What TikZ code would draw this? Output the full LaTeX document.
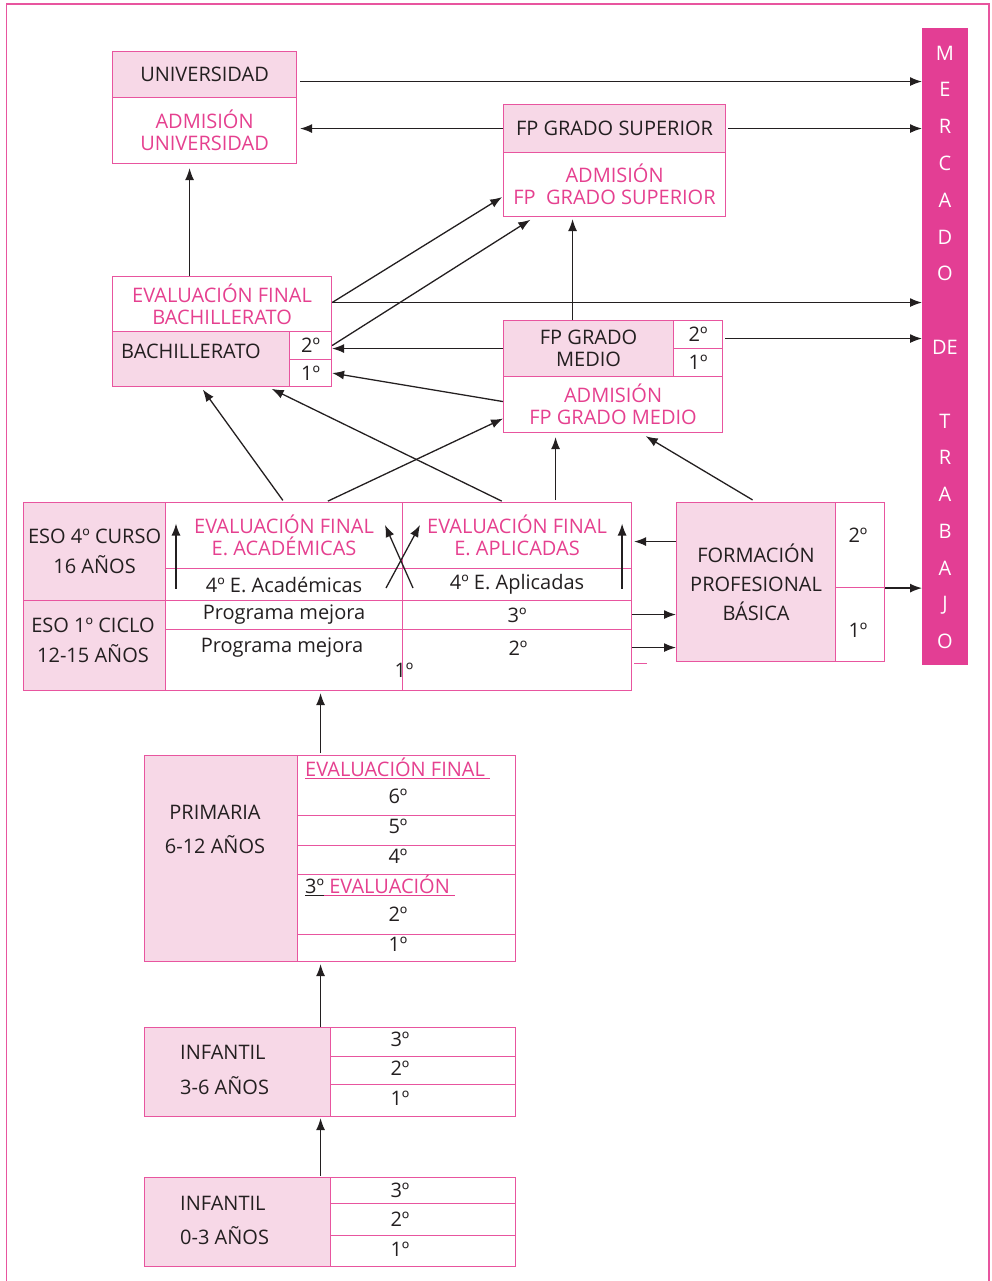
\documentclass[tikz,border=0pt]{standalone}
\usepackage{fontspec}
\setmainfont{Open Sans}
\usetikzlibrary{arrows.meta}
\definecolor{rosa}{HTML}{E8559F}
\definecolor{rosaclaro}{HTML}{F7D8E7}
\definecolor{rosatexto}{HTML}{E5408F}
\definecolor{barra}{HTML}{E33E94}
\definecolor{tinta}{HTML}{231F20}

\begin{document}
\begin{tikzpicture}[x=1pt, y=-1pt,
    celda/.style={draw=rosa, line width=1.1pt, anchor=north west, inner sep=0pt, align=center, font=\fontsize{20}{22}\selectfont, text=tinta},
    celdarosa/.style={celda, fill=rosaclaro},
    rosado/.style={text=rosatexto},
    texto/.style={inner sep=0pt, align=center, font=\fontsize{20}{22}\selectfont, text=tinta},
    letra/.style={inner sep=0pt, font=\fontsize{20}{20}\selectfont, text=white},
    flecha/.style={-{Latex[length=12pt,width=9pt]}, line width=1.3pt, tinta}]
    \useasboundingbox (0,0) rectangle (992,1281);

    \draw[rosa, line width=1.5pt] (6.5,1281) -- (6.5,4) -- (989,4) -- (989,1281);

    \node[fill=barra, anchor=north west, minimum width=46, minimum height=637, inner sep=0pt] (mercado) at (922,28) {};
    \foreach \l [count=\i from 0] in {M,E,R,C,A,D,O,{},DE,{},T,R,A,B,A,J,O}
        \node[letra] (m\i) at (945,{53+36.8*\i}) {\l};

    % universidad y fp superior
    \node[celdarosa, minimum width=184, minimum height=46] (univ) at (112,51) {UNIVERSIDAD};
    \node[celda, rosado, minimum width=184, minimum height=66] (admuniv) at (112,97) {ADMISIÓN\\UNIVERSIDAD};
    \node[celdarosa, minimum width=222, minimum height=48] (fpgs) at (503,104) {FP GRADO SUPERIOR};
    \node[celda, rosado, minimum width=222, minimum height=64] (admfpgs) at (503,152) {ADMISIÓN\\FP\ \ GRADO SUPERIOR};

    % bachillerato y fp medio
    \node[celda, rosado, minimum width=219, minimum height=55] (evalbach) at (112,276) {EVALUACIÓN FINAL\\BACHILLERATO};
    \node[celdarosa, minimum width=177, minimum height=55] (bach) at (112,331) {};
    \node[texto, anchor=west] (bachtxt) at (121,351) {BACHILLERATO};
    \node[celda, minimum width=42, minimum height=28] (bach2) at (289,331) {2º};
    \node[celda, minimum width=42, minimum height=27] (bach1) at (289,359) {1º};
    \node[celdarosa, minimum width=170, minimum height=56] (fpgm) at (503,320) {FP GRADO\\MEDIO};
    \node[celda, minimum width=49, minimum height=28] (fpgm2) at (673,320) {2º};
    \node[celda, minimum width=49, minimum height=28] (fpgm1) at (673,348) {1º};
    \node[celda, rosado, minimum width=219, minimum height=56] (admfpgm) at (503,376) {ADMISIÓN\\FP GRADO MEDIO};

    % eso
    \node[celdarosa, minimum width=142, minimum height=98] (eso4) at (23,502) {ESO 4º CURSO\\[8pt]16 AÑOS};
    \node[celdarosa, minimum width=142, minimum height=90] (eso1) at (23,600) {};
    \node[texto] (eso1txt) at (93,640) {ESO 1º CICLO\\[8pt]12-15 AÑOS};
    \node[celda, rosado, minimum width=237, minimum height=66] (evalacad) at (165,502) {EVALUACIÓN FINAL\\E. ACADÉMICAS};
    \node[celda, rosado, minimum width=229, minimum height=66] (evalapl) at (402,502) {EVALUACIÓN FINAL\\E. APLICADAS};
    \node[celda, minimum width=237, minimum height=32] (acad4) at (165,568) {4º E. Académicas};
    \node[celda, minimum width=229, minimum height=32] (apl4) at (402,568) {4º E. Aplicadas};
    \node[celda, minimum width=237, minimum height=29] (mejora3) at (165,600) {Programa mejora};
    \node[celda, minimum width=229, minimum height=29] (eso3) at (402,600) {3º};
    \node[celda, minimum width=237, minimum height=61] (mejora2) at (165,629) {};
    \node[celda, minimum width=229, minimum height=61] (eso2) at (402,629) {};
    \node[texto] (mejora2txt) at (282,648) {Programa mejora};
    \node[texto] (eso2txt) at (518,648) {2º};
    \node[texto] (eso1ro) at (404,670) {1º};

    % fp basica
    \node[celdarosa, minimum width=159, minimum height=159] (fpb) at (676,502) {FORMACIÓN\\[7pt]PROFESIONAL\\[7pt]BÁSICA};
    \node[celda, minimum width=49, minimum height=85] (fpb2) at (835,502) {};
    \node[celda, minimum width=49, minimum height=74] (fpb1) at (835,587) {};
    \node[texto] (fpb2txt) at (858,535) {2º};
    \node[texto] (fpb1txt) at (858,630) {1º};

    % primaria
    \node[celdarosa, minimum width=153, minimum height=206] (prim) at (144,755) {};
    \node[texto] (primtxt) at (215,829) {PRIMARIA\\[12pt]6-12 AÑOS};
    \node[celda, minimum width=218, minimum height=60] (p6) at (297,755) {};
    \node[celda, minimum width=218, minimum height=30] (p5) at (297,815) {};
    \node[celda, minimum width=218, minimum height=29] (p4) at (297,845) {};
    \node[celda, minimum width=218, minimum height=60] (p2) at (297,874) {};
    \node[celda, minimum width=218, minimum height=27] (p1) at (297,934) {};
    \node[texto, rosado, anchor=west] (evalprim) at (305,768) {\underline{EVALUACIÓN FINAL\ }};
    \node[texto] (p6txt) at (398,796) {6º};
    \node[texto] (p5txt) at (398,826) {5º};
    \node[texto] (p4txt) at (398,856) {4º};
    \node[texto, rosado, anchor=west] (evalp3) at (305,885) {{\color{tinta}\underline{3º}}\underline{\ EVALUACIÓN\ }};
    \node[texto] (p2txt) at (398,914) {2º};
    \node[texto] (p1txt) at (398,944) {1º};

    % infantil
    \node[celdarosa, minimum width=186, minimum height=89] (inf36) at (144,1027) {};
    \node[texto, anchor=west] (inf36a) at (180,1052) {INFANTIL};
    \node[texto, anchor=west] (inf36b) at (180,1086) {3-6 AÑOS};
    \node[celda, minimum width=185, minimum height=29] (i3) at (330,1027) {};
    \node[celda, minimum width=185, minimum height=28] (i2) at (330,1056) {};
    \node[celda, minimum width=185, minimum height=32] (i1) at (330,1084) {};
    \node[texto] (i3txt) at (400,1039) {3º};
    \node[texto] (i2txt) at (400,1068) {2º};
    \node[texto] (i1txt) at (400,1098) {1º};

    \node[celdarosa, minimum width=186, minimum height=89] (inf03) at (144,1177) {};
    \node[texto, anchor=west] (inf03a) at (180,1203) {INFANTIL};
    \node[texto, anchor=west] (inf03b) at (180,1236) {0-3 AÑOS};
    \node[celda, minimum width=185, minimum height=26] (r3) at (330,1177) {};
    \node[celda, minimum width=185, minimum height=32] (r2) at (330,1203) {};
    \node[celda, minimum width=185, minimum height=31] (r1) at (330,1235) {};
    \node[texto] (r3txt) at (400,1190) {3º};
    \node[texto] (r2txt) at (400,1219) {2º};
    \node[texto] (r1txt) at (400,1249) {1º};

    % flechas
    \draw[flecha, shorten <=3pt] ([yshift=-7]univ.east) -- ([yshift=-7]univ.east -| mercado.west);
    \draw[flecha, shorten >=3pt] (fpgs.west) -- (fpgs.west -| admuniv.east);
    \draw[flecha, shorten <=2pt] (fpgs.east) -- (fpgs.east -| mercado.west);
    \draw[flecha, shorten >=4pt] ([xshift=-32.5]evalbach.north) -- ([xshift=-32.5]evalbach.north |- admuniv.south);
    \draw[flecha] ([yshift=1.5]evalbach.east) -- ([yshift=1.5]evalbach.east -| mercado.west);
    \draw[flecha, shorten >=1pt] ([yshift=1.5]evalbach.east) -- ([yshift=-12]admfpgs.west);
    \draw[flecha, shorten >=5pt] (bach2.east) -- ([xshift=-80]admfpgs.south);
    \draw[flecha, shorten >=2pt] ([xshift=-16]fpgm.north) -- ([xshift=-16]fpgm.north |- admfpgs.south);
    \draw[flecha] (fpgm.west) -- (fpgm.west -| bach2.east);
    \draw[flecha] ([yshift=3]admfpgm.west) -- (bach1.east);
    \draw[flecha, shorten <=2pt] ([yshift=-4]fpgm2.east) -- ([yshift=-4]fpgm2.east -| mercado.west);

    \draw[flecha] ([xshift=11,yshift=-4]acad4.west) -- ([xshift=11,yshift=12]evalacad.west);
    \draw[flecha] ([xshift=-10,yshift=-4]apl4.east) -- ([xshift=-10,yshift=12]evalapl.east);
    \draw[flecha] ([xshift=-16,yshift=-20]apl4.north west) -- ([xshift=18,yshift=43]apl4.north west);
    \draw[flecha] ([xshift=11,yshift=-20]apl4.north west) -- ([xshift=-17,yshift=43]apl4.north west);

    \draw[flecha, shorten >=2pt] ([yshift=40.5]fpb.west) -- ([yshift=40.5]fpb.west -| evalapl.east);
    \draw[flecha] ([yshift=0.5]eso3.east) -- ([yshift=0.5]eso3.east -| fpb.west);
    \draw[flecha] ([yshift=12.5]eso2.east) -- ([yshift=12.5]eso2.east -| fpb.west);
    \draw[rosa, line width=1.1pt] ([xshift=2,yshift=-3.5]eso2.east) -- ++(13,0);
    \draw[flecha] (fpb2.south east) -- (fpb2.south east -| mercado.west);

    \draw[flecha, shorten <=2pt, shorten >=3pt] (evalacad.north) -- (bach.south);
    \draw[flecha, shorten <=2pt] ([xshift=42]evalacad.north) -- ([yshift=-14]admfpgm.west);
    \draw[flecha, shorten <=2pt, shorten >=4pt] ([xshift=-13.5]evalapl.north) -- ([xshift=67]bach.south);
    \draw[flecha, shorten <=2pt, shorten >=4pt] ([xshift=38.5]evalapl.north) -- ([xshift=38.5]evalapl.north |- admfpgm.south);
    \draw[flecha, shorten <=4pt, shorten >=6pt] (fpb.north) -- ([xshift=27.5]admfpgm.south);

    \draw[flecha, shorten <=2pt, shorten >=2pt] ([xshift=99.5]prim.north) -- ([xshift=99.5]prim.north |- mejora2.south);
    \draw[flecha, shorten >=2pt] ([xshift=83]inf36.north) -- ([xshift=83]inf36.north |- prim.south);
    \draw[flecha, shorten <=1pt, shorten >=1pt] ([xshift=83]inf03.north) -- ([xshift=83]inf03.north |- inf36.south);

\end{tikzpicture}
\end{document}
